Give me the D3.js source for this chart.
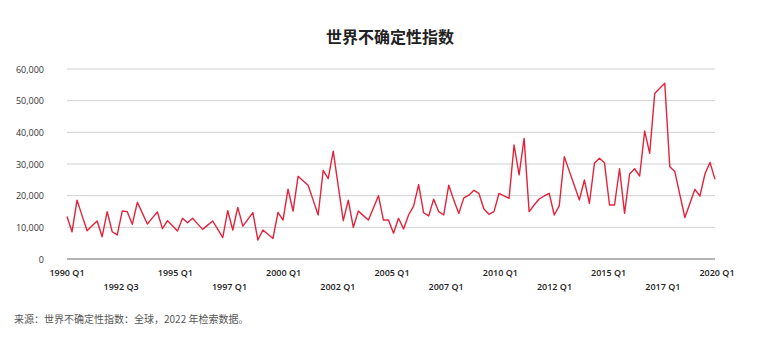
<!DOCTYPE html>
<html><head><meta charset="utf-8">
<script src="https://cdn.jsdelivr.net/npm/d3@7"></script>
<style>body{margin:0;background:#fff;} svg{display:block;}</style>
</head><body>
<svg id="c" width="779" height="350"></svg>
<script>
// World Uncertainty Index (global), quarterly from 1990 Q1
const wuiValues = [
13400, 8600, 18600, 13700, 8900, 10500, 12000, 7050, 14950, 8600,
7600, 15150, 14950, 10950, 17900, 14500, 11050, 13000, 14850, 9600,
12100, 10500, 8850, 12850, 11450, 12850, 11100, 9350, 10700, 12000,
9400, 6750, 15250, 9150, 16300, 10400, 12500, 14650, 6000, 9150,
7800, 6500, 14700, 12300, 22050, 15150, 26100, 24700, 23300, 18600,
13900, 28000, 25400, 34050, 23000, 12100, 18600, 10000, 15150, 13700,
12300, 16100, 20000, 12300, 12300, 8150, 12850, 9500, 13900, 16700,
23500, 14600, 13600, 18900, 14950, 13900, 23300, 18600, 14400, 19300,
20150, 21700, 20700, 15800, 14100, 14950, 20700, 19900, 19150, 36000,
26550, 38100, 14950, 17050, 18950, 19900, 20750, 13900, 16850, 32300,
27750, 23200, 18650, 24950, 17600, 30200, 31800, 30400, 17050, 17050,
28500, 14400, 26850, 28500, 26200, 40400, 33350, 52300, 53900, 55500,
29150, 27600, 20300, 13100, 17500, 22000, 19900, 26850, 30500, 25150
];
const xTickLabels = ["1990 Q1","1992 Q3","1995 Q1","1997 Q1","2000 Q1","2002 Q1","2005 Q1","2007 Q1","2010 Q1","2012 Q1","2015 Q1","2017 Q1","2020 Q1"];
const yTickValues = [0, 10000, 20000, 30000, 40000, 50000, 60000];
const titleText = "世界不确定性指数";
const sourceText = "来源：世界不确定性指数：全球，2022 年检索数据。";

const svg = d3.select("#c");
const x = d3.scaleLinear().domain([0, wuiValues.length - 1]).range([67, 715]);
const y = d3.scaleLinear().domain([0, 60000]).range([259, 69]);
const xLab = d3.scalePoint().domain(xTickLabels).range([67, 717]);

svg.append("text").attr("x", 390).attr("y", 43).attr("text-anchor", "middle")
  .attr("font-family", "'Noto Sans CJK SC', sans-serif").attr("font-weight", 700)
  .attr("font-size", 16).attr("fill", "#222").text(titleText);

// gridlines
svg.append("g").selectAll("line").data(yTickValues).join("line")
  .attr("x1", 67).attr("x2", 715)
  .attr("y1", d => y(d)).attr("y2", d => y(d))
  .attr("stroke", d => d === 0 ? "#b4b4b4" : "#d0d0d0")
  .attr("stroke-width", d => d === 0 ? 2 : 1);

// y labels
const fmt = d3.format(",");
svg.append("g").selectAll("text").data(yTickValues).join("text")
  .attr("x", 44).attr("y", d => y(d) + 3.5).attr("text-anchor", "end")
  .attr("font-family", "'Open Sans', sans-serif").attr("font-size", 9)
  .attr("fill", "#333").text(d => fmt(d));

// x labels
svg.append("g").selectAll("text").data(xTickLabels).join("text")
  .attr("x", d => xLab(d)).attr("y", (d, i) => i % 2 === 0 ? 276 : 290)
  .attr("text-anchor", "middle")
  .attr("font-family", "'Open Sans', sans-serif").attr("font-weight", 600)
  .attr("font-size", 9).attr("fill", "#222").text(d => d);

// line
const line = d3.line().x((d, i) => x(i)).y(d => y(d));
svg.append("path").datum(wuiValues).attr("d", line)
  .attr("fill", "none").attr("stroke", "#e2233b").attr("stroke-width", 1.4)
  .attr("stroke-linejoin", "round");

svg.append("text").attr("x", 14).attr("y", 323)
  .attr("font-family", "'Noto Sans CJK SC', sans-serif").attr("font-size", 10)
  .attr("fill", "#555").text(sourceText);
</script>
</body></html>
